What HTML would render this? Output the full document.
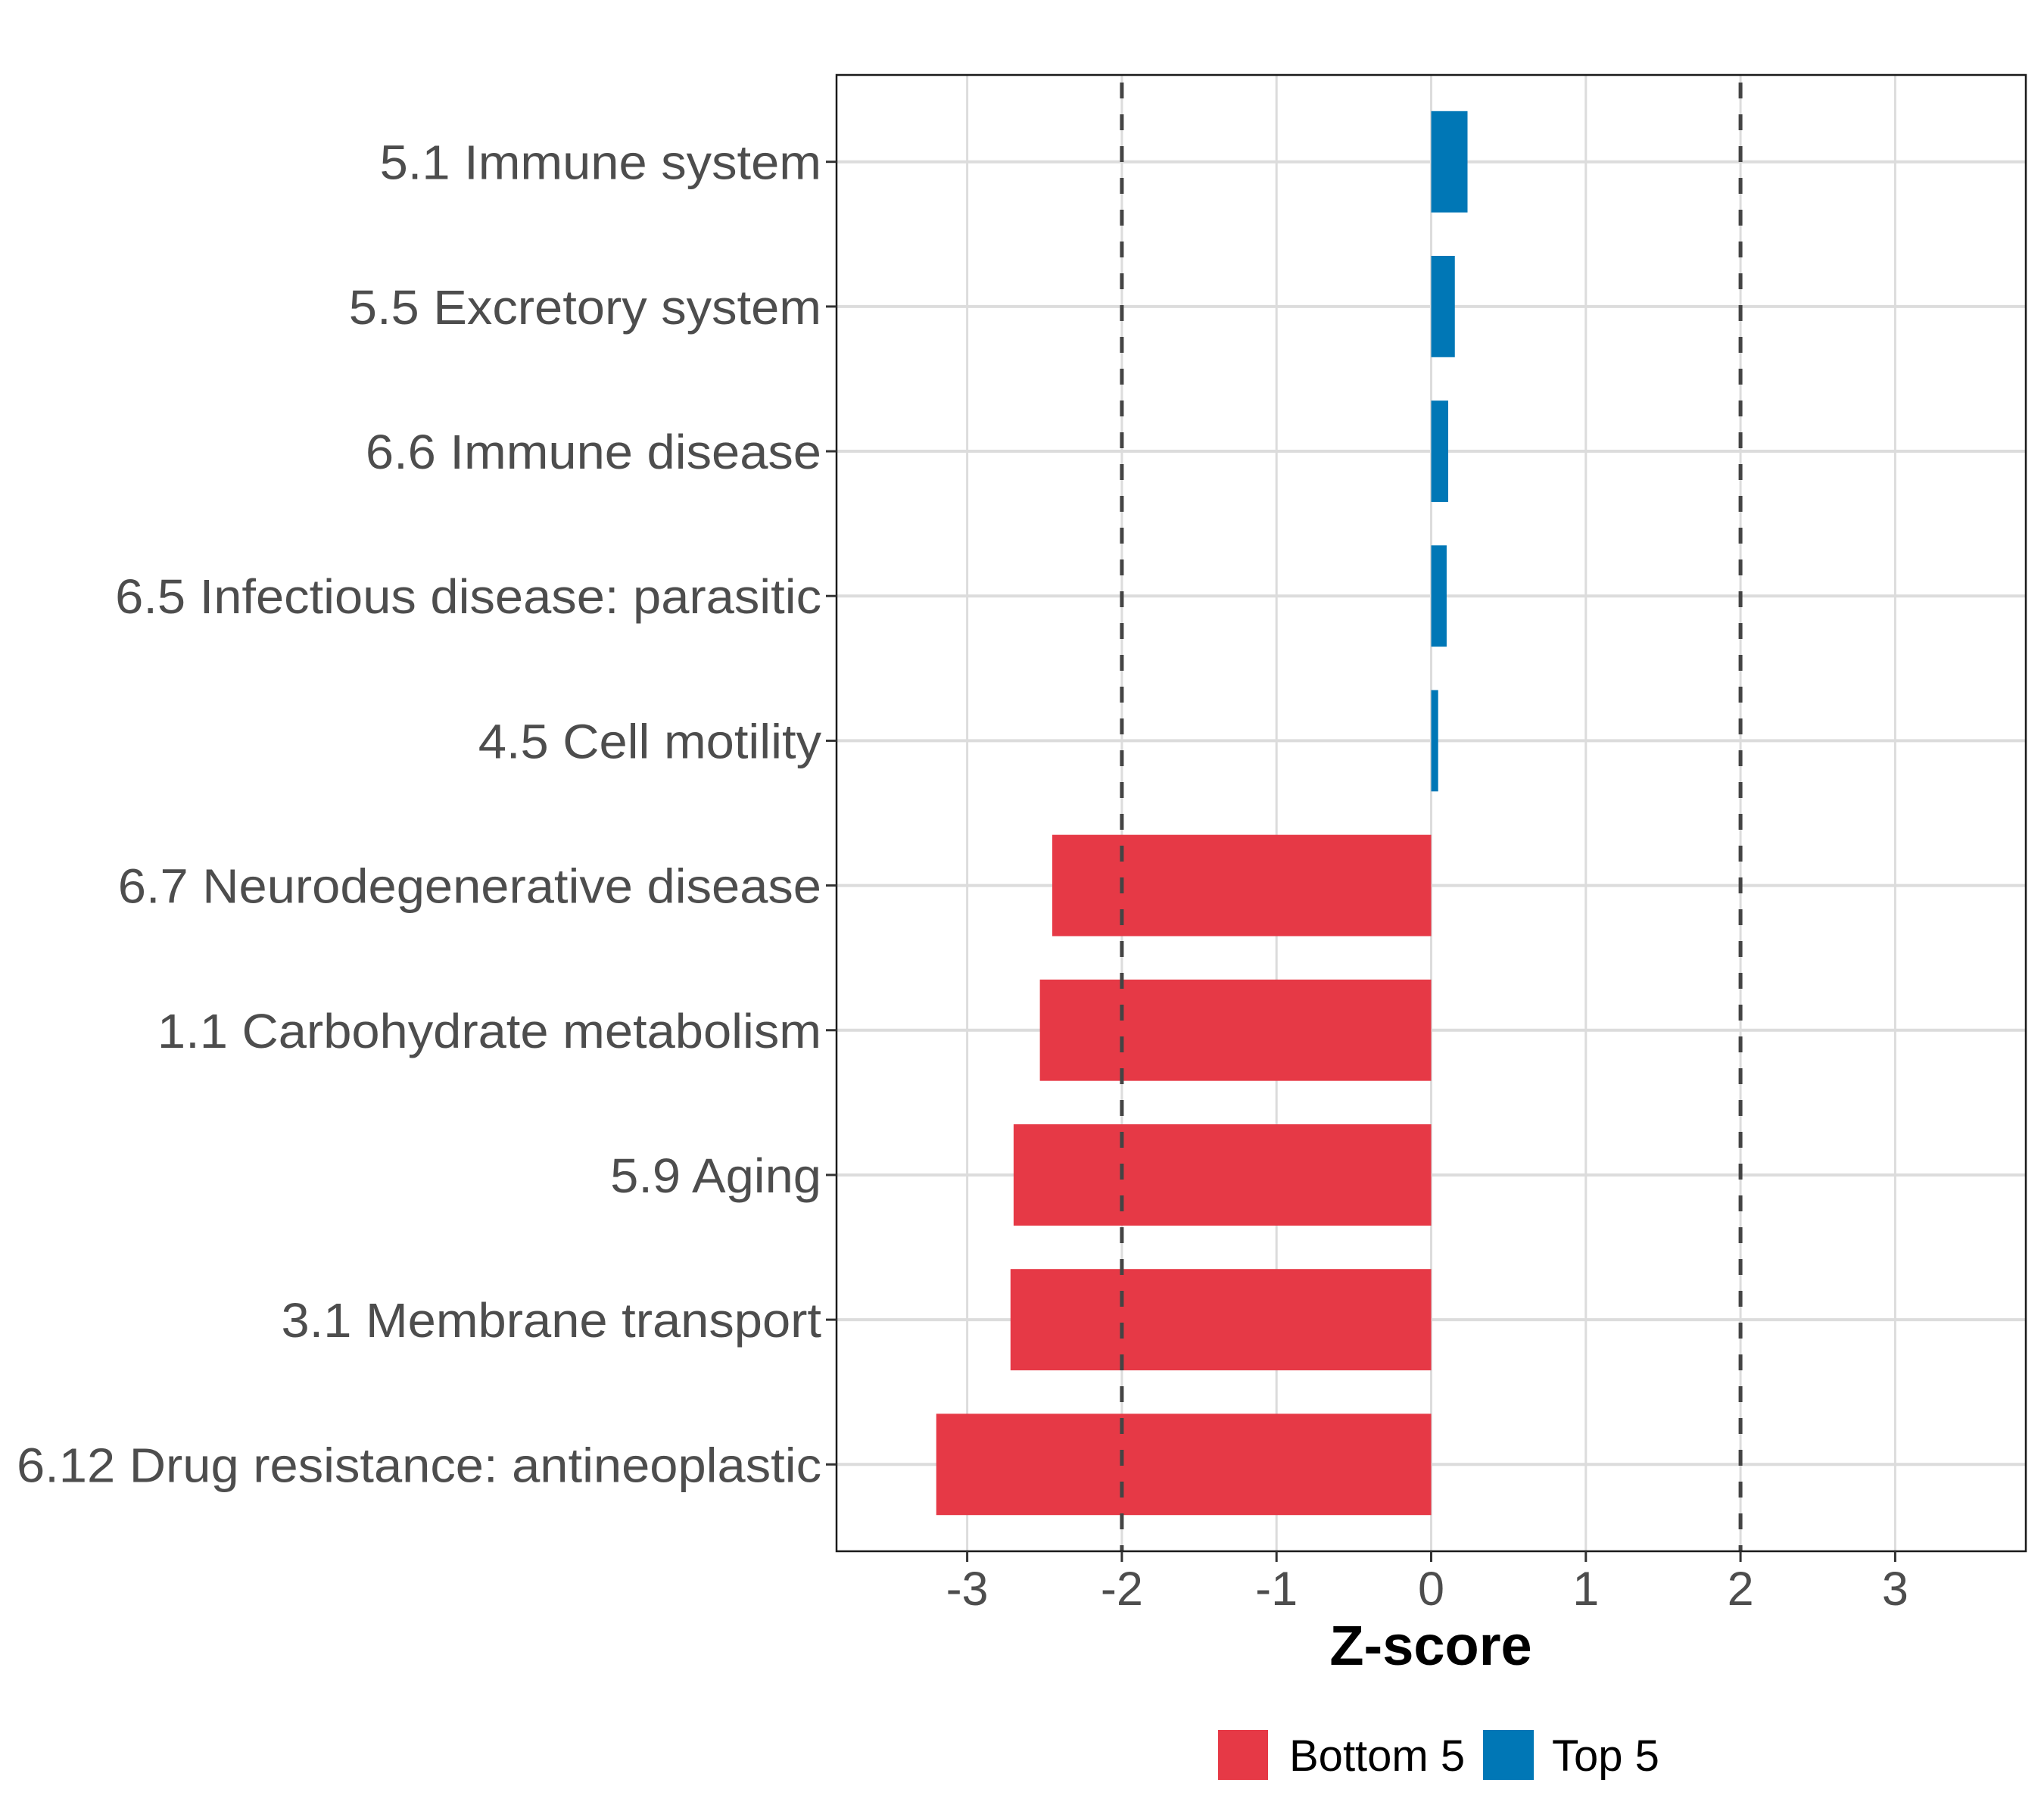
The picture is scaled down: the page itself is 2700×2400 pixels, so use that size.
<!DOCTYPE html>
<html><head><meta charset="utf-8"><style>
html,body{margin:0;padding:0;background:#fff;}
svg{display:block;font-family:"Liberation Sans",Arial,sans-serif;}
</style></head><body>
<svg id="chart" width="2700" height="2400" viewBox="0 0 2700 2400" xmlns="http://www.w3.org/2000/svg">
<rect x="0" y="0" width="2700" height="2400" fill="#fff"/>
<g id="grid"></g>
<g id="bars"></g>
<g id="refs"></g>
<rect x="1105" y="99" width="1571" height="1950" fill="none" stroke="#1a1a1a" stroke-width="2.5"/>
<g id="yaxis"></g>
<g id="xaxis"></g>
<text x="1890" y="2199" text-anchor="middle" font-size="74" font-weight="bold" fill="#000">Z-score</text>
<g>
<rect x="1609" y="2285" width="66" height="66" fill="#E63946"/>
<text x="1703" y="2339" font-size="58" fill="#000">Bottom 5</text>
<rect x="1959" y="2285" width="67" height="66" fill="#0077B6"/>
<text x="2050" y="2339" font-size="58" fill="#000">Top 5</text>
</g>
</svg>
<script>
const categories = ["5.1 Immune system","5.5 Excretory system","6.6 Immune disease","6.5 Infectious disease: parasitic","4.5 Cell motility","6.7 Neurodegenerative disease","1.1 Carbohydrate metabolism","5.9 Aging","3.1 Membrane transport","6.12 Drug resistance: antineoplastic"];
const values = [0.235,0.153,0.11,0.10,0.045,-2.45,-2.53,-2.70,-2.72,-3.20];
const groups = ["Top 5","Top 5","Top 5","Top 5","Top 5","Bottom 5","Bottom 5","Bottom 5","Bottom 5","Bottom 5"];
const xTicks = [-3,-2,-1,0,1,2,3];
const xTickLabels = ["-3","-2","-1","0","1","2","3"];
const refValues = [-2,2];

const NS="http://www.w3.org/2000/svg";
const X0=1890.5, UNIT=204.3, PT=99, PB=2049, PL=1105, PR=2676;
const step=(PB-PT)/(categories.length-1+1.2);
const xs=v=>X0+v*UNIT;
const ys=i=>PT+step*0.6+i*step;
function mk(tag,attrs,parent){const e=document.createElementNS(NS,tag);for(const k in attrs)e.setAttribute(k,attrs[k]);parent.appendChild(e);return e;}
const grid=document.getElementById('grid'),bars=document.getElementById('bars'),refs=document.getElementById('refs'),ya=document.getElementById('yaxis'),xa=document.getElementById('xaxis');
xTicks.forEach((t,i)=>{
  const g=mk('line',{x1:xs(t),x2:xs(t),y1:PT,y2:PB,stroke:'#dcdcdc','stroke-width':3},grid);
  
  
  const tk=mk('line',{x1:xs(t),x2:xs(t),y1:PB,y2:PB+14,stroke:'#333','stroke-width':3},xa);
  
  
  const lb=mk('text',{x:xs(t),y:2120,'text-anchor':'middle','font-size':63,fill:'#4d4d4d'},xa);
  lb.textContent=xTickLabels[i];
  
  
});
categories.forEach((c,i)=>{
  const y=ys(i);
  const g=mk('line',{x1:PL,x2:PR,y1:y,y2:y,stroke:'#dcdcdc','stroke-width':4},grid);
  
  
  const v=values[i];
  const h=step*0.7;
  const b=mk('rect',{x:Math.min(xs(0),xs(v)),y:y-h/2,width:Math.abs(xs(v)-xs(0)),height:h,fill:groups[i]==="Top 5"?'#0077B6':'#E63946'},bars);
  
  
  const tk=mk('line',{x1:PL-14,x2:PL,y1:y,y2:y,stroke:'#333','stroke-width':3},ya);
  
  
  const lb=mk('text',{x:0,y:y+23,'text-anchor':'end','font-size':64,fill:'#4d4d4d',transform:'translate(1085,0) scale(1.045,1)'},ya);
  lb.textContent=c;
  
  
});
refValues.forEach(r=>{
  const l=mk('line',{x1:xs(r),x2:xs(r),y1:PT,y2:PB,stroke:'#444','stroke-width':5,'stroke-dasharray':'21 21','stroke-dashoffset':'-10'},refs);
  
  
});
</script>
</body></html>
